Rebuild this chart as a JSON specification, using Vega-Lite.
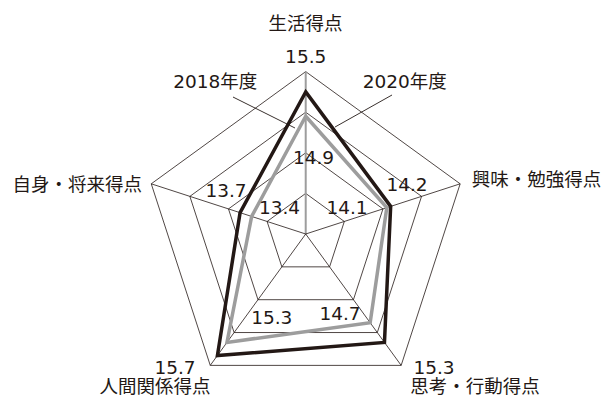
{
  "$schema": "https://vega.github.io/schema/vega-lite/v6.json",
  "width": 604,
  "height": 397,
  "autosize": "none",
  "padding": 0,
  "background": "white",
  "config": {"view": {"stroke": null}},
  "datasets": {
    "scores": [
      {"series": "2018年度", "axis": "生活得点", "value": 14.9},
      {"series": "2018年度", "axis": "興味・勉強得点", "value": 14.1},
      {"series": "2018年度", "axis": "思考・行動得点", "value": 14.7},
      {"series": "2018年度", "axis": "人間関係得点", "value": 15.3},
      {"series": "2018年度", "axis": "自身・将来得点", "value": 13.4},
      {"series": "2020年度", "axis": "生活得点", "value": 15.5},
      {"series": "2020年度", "axis": "興味・勉強得点", "value": 14.2},
      {"series": "2020年度", "axis": "思考・行動得点", "value": 15.3},
      {"series": "2020年度", "axis": "人間関係得点", "value": 15.7},
      {"series": "2020年度", "axis": "自身・将来得点", "value": 13.7}
    ],
    "axes": [
      {"axis": "生活得点", "rings": [13, 14, 15, 16]},
      {"axis": "興味・勉強得点", "rings": [13, 14, 15, 16]},
      {"axis": "思考・行動得点", "rings": [13, 14, 15, 16]},
      {"axis": "人間関係得点", "rings": [13, 14, 15, 16]},
      {"axis": "自身・将来得点", "rings": [13, 14, 15, 16]}
    ],
    "series": [
      {"series": "2018年度"},
      {"series": "2020年度"}
    ]
  },
  "layer": [
    {
      "data": {"name": "axes"},
      "transform": [
        {"calculate": "indexof(['生活得点','興味・勉強得点','思考・行動得点','人間関係得点','自身・将来得点'], datum.axis)", "as": "i"},
        {"calculate": "datum.i*2*PI/5", "as": "a"},
        {"flatten": ["rings"], "as": ["level"]},
        {"calculate": "(datum.level-12)*sin(datum.a)", "as": "x"},
        {"calculate": "(datum.level-12)*cos(datum.a)", "as": "y"}
      ],
      "mark": {"type": "line", "interpolate": "linear-closed", "stroke": "#231815", "strokeWidth": 0.8},
      "encoding": {
        "x": {"field": "x", "type": "quantitative", "scale": {"domain": [-7.53, 7.347], "nice": false, "zero": false}, "axis": null},
        "y": {"field": "y", "type": "quantitative", "scale": {"domain": [-4.015, 5.764], "nice": false, "zero": false}, "axis": null},
        "detail": {"field": "level", "type": "nominal"},
        "order": {"field": "i", "type": "quantitative"}
      }
    },
    {
      "data": {"name": "axes"},
      "transform": [
        {"calculate": "indexof(['生活得点','興味・勉強得点','思考・行動得点','人間関係得点','自身・将来得点'], datum.axis)", "as": "i"},
        {"calculate": "datum.i*2*PI/5", "as": "a"},
        {"calculate": "0", "as": "x0"},
        {"calculate": "0", "as": "y0"},
        {"calculate": "4*sin(datum.a)", "as": "x1"},
        {"calculate": "4*cos(datum.a)", "as": "y1"}
      ],
      "mark": {"type": "rule"},
      "encoding": {
        "x": {"field": "x0", "type": "quantitative", "axis": null},
        "y": {"field": "y0", "type": "quantitative", "axis": null},
        "x2": {"field": "x1"},
        "y2": {"field": "y1"},
        "color": {"condition": {"test": "datum.i===0", "value": "#9d9d9d"}, "value": "#231815"},
        "strokeWidth": {"condition": {"test": "datum.i===0", "value": 2}, "value": 0.8}
      }
    },
    {
      "data": {"name": "scores"},
      "transform": [
        {"calculate": "indexof(['生活得点','興味・勉強得点','思考・行動得点','人間関係得点','自身・将来得点'], datum.axis)", "as": "i"},
        {"calculate": "datum.i*2*PI/5", "as": "a"},
        {"calculate": "(datum.value-12)*sin(datum.a)", "as": "x"},
        {"calculate": "(datum.value-12)*cos(datum.a)", "as": "y"}
      ],
      "mark": {"type": "line", "interpolate": "linear-closed", "strokeWidth": 3.5, "strokeJoin": "miter"},
      "encoding": {
        "x": {"field": "x", "type": "quantitative", "axis": null},
        "y": {"field": "y", "type": "quantitative", "axis": null},
        "color": {"field": "series", "type": "nominal", "scale": {"domain": ["2018年度", "2020年度"], "range": ["#9d9d9d", "#231815"]}, "legend": null},
        "order": {"field": "i", "type": "quantitative"}
      }
    },
    {
      "data": {"name": "scores"},
      "transform": [
        {"calculate": "indexof(['生活得点','興味・勉強得点','思考・行動得点','人間関係得点','自身・将来得点'], datum.axis)", "as": "i"},
        {"calculate": "datum.i*2*PI/5", "as": "a"},
        {"calculate": "(datum.value-12)*sin(datum.a)", "as": "x"},
        {"calculate": "(datum.value-12)*cos(datum.a)", "as": "y"},
        {"calculate": "datum.x + (datum.series==='2020年度' ? [0, 0.403, 1.22, -1.044, -0.346] : [0.192, -0.98, -0.742, 1.103, 0.686])[datum.i]", "as": "lx"},
        {"calculate": "datum.y + (datum.series==='2020年度' ? [0.872, 0.527, -0.63, -0.307, 0.546] : [-1.028, -0.009, 0.214, 0.613, 0.207])[datum.i]", "as": "ly"},
        {"calculate": "format(datum.value, '.1f')", "as": "label"}
      ],
      "mark": {"type": "text", "font": "DejaVu Sans, Noto Sans CJK JP", "fontSize": 18.5, "align": "center", "baseline": "middle", "color": "#231815"},
      "encoding": {
        "x": {"field": "lx", "type": "quantitative", "axis": null},
        "y": {"field": "ly", "type": "quantitative", "axis": null},
        "text": {"field": "label"},
        "fontWeight": {"condition": {"test": "datum.series==='2018年度' && datum.i===4", "value": "bold"}, "value": "normal"}
      }
    },
    {
      "data": {"name": "axes"},
      "transform": [
        {"calculate": "indexof(['生活得点','興味・勉強得点','思考・行動得点','人間関係得点','自身・将来得点'], datum.axis)", "as": "i"},
        {"calculate": "[-0.005, 5.683, 4.17, -3.712, -5.627][datum.i]", "as": "lx"},
        {"calculate": "[5.167, 1.318, -3.768, -3.768, 1.195][datum.i]", "as": "ly"}
      ],
      "mark": {"type": "text", "font": "Noto Sans CJK JP", "fontSize": 18.5, "align": "center", "baseline": "middle", "color": "#231815"},
      "encoding": {
        "x": {"field": "lx", "type": "quantitative", "axis": null},
        "y": {"field": "ly", "type": "quantitative", "axis": null},
        "text": {"field": "axis"}
      }
    },
    {
      "data": {"name": "series"},
      "transform": [
        {"calculate": "datum.series==='2018年度' ? -1.791 : 2.126", "as": "x1"},
        {"calculate": "datum.series==='2018年度' ? 3.374 : 3.424", "as": "y1"},
        {"calculate": "datum.series==='2018年度' ? -0.264 : 0.722", "as": "x2"},
        {"calculate": "datum.series==='2018年度' ? 2.611 : 2.635", "as": "y2"}
      ],
      "mark": {"type": "rule", "color": "#231815", "strokeWidth": 0.9},
      "encoding": {
        "x": {"field": "x1", "type": "quantitative", "axis": null},
        "y": {"field": "y1", "type": "quantitative", "axis": null},
        "x2": {"field": "x2"},
        "y2": {"field": "y2"}
      }
    },
    {
      "data": {"name": "series"},
      "transform": [
        {"calculate": "datum.series==='2018年度' ? -2.229 : 2.438", "as": "lx"},
        {"calculate": "3.744", "as": "ly"}
      ],
      "mark": {"type": "text", "font": "DejaVu Sans, Noto Sans CJK JP", "fontSize": 18.5, "align": "center", "baseline": "middle", "color": "#231815"},
      "encoding": {
        "x": {"field": "lx", "type": "quantitative", "axis": null},
        "y": {"field": "ly", "type": "quantitative", "axis": null},
        "text": {"field": "series"}
      }
    }
  ]
}
